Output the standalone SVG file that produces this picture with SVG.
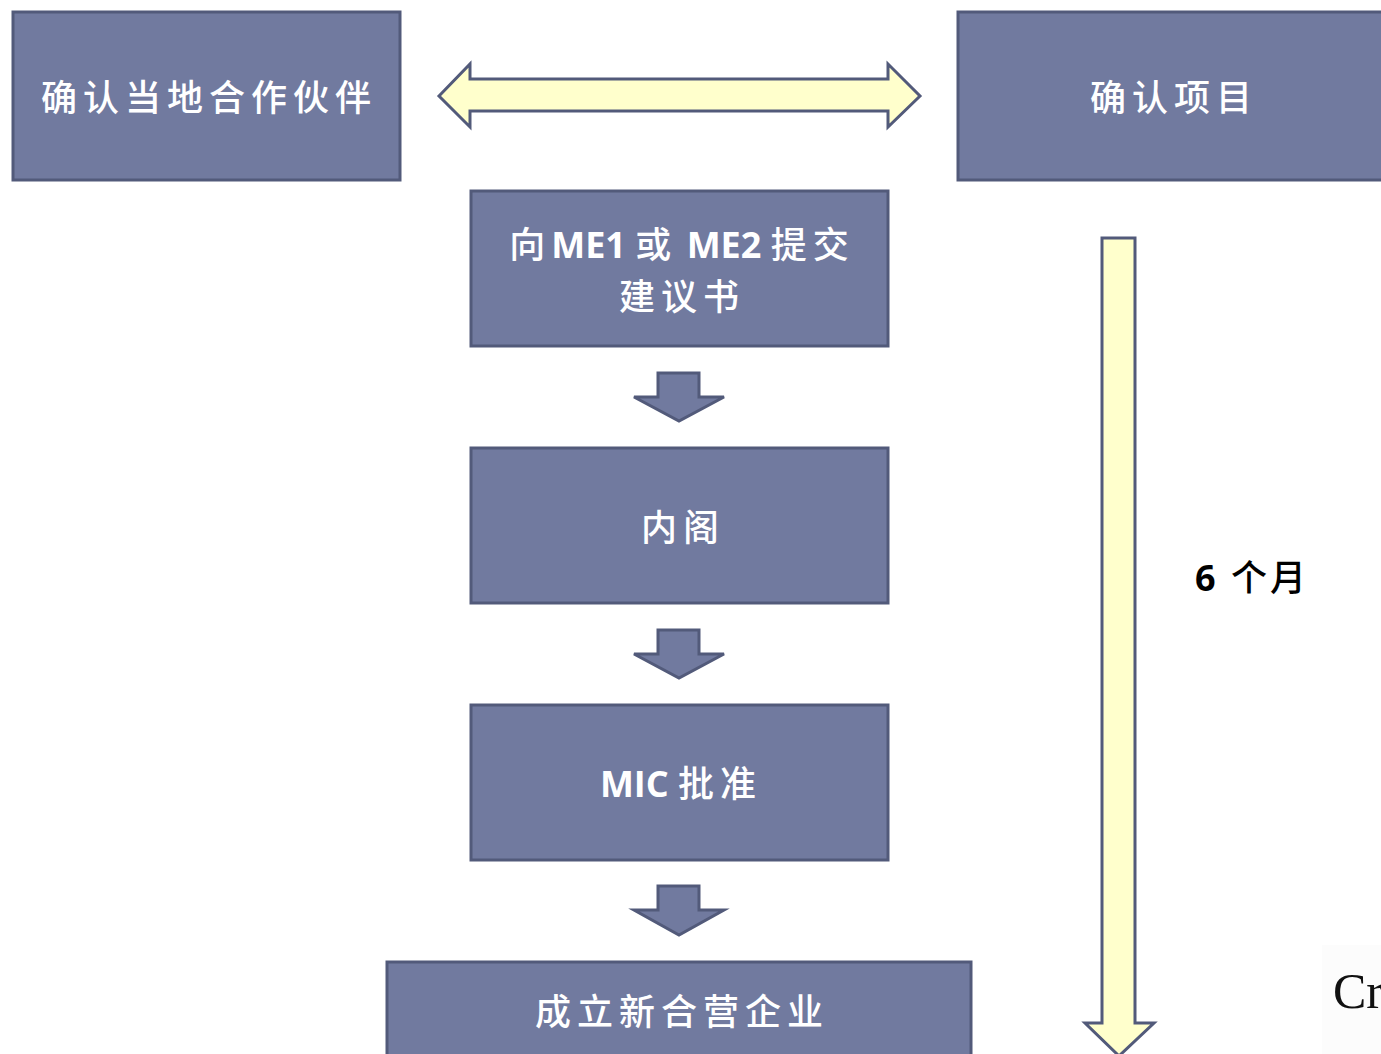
<svg xmlns="http://www.w3.org/2000/svg" width="1381" height="1054" viewBox="0 0 1381 1054">
<style>
.box{fill:#717A9F;stroke:#525A7A;stroke-width:3}
.yel{fill:#FFFFCC;stroke:#525A7A;stroke-width:3;stroke-linejoin:miter}
.dn{fill:#717A9F;stroke:#525A7A;stroke-width:3}
.t{fill:#FFFFFF;font-family:"Noto Sans CJK SC","Noto Sans",sans-serif;font-size:36px;font-weight:500;text-anchor:middle;letter-spacing:6px}
.lat{font-family:"Open Sans","Liberation Sans","Noto Sans CJK SC",sans-serif;font-weight:700;letter-spacing:0}
.k{fill:#000;font-family:"Noto Sans CJK SC","Noto Sans",sans-serif;font-size:36px;font-weight:500;letter-spacing:3px}
</style>
<rect width="1381" height="1054" fill="#FFFFFF"/>
<rect x="1322" y="945" width="59" height="109" fill="#FCFCFC"/>
<g id="connectors">
<path class="yel" d="M439,96 L470,64 L470,79 L888,79 L888,64 L920,96 L888,127 L888,111 L470,111 L470,127 Z"/>
<path class="dn" d="M658,373 L699,373 L699,397 L724,397 L679,421 L634,397 L658,397 Z"/>
<path class="dn" d="M658,630 L699,630 L699,654 L724,654 L679,678 L634,654 L658,654 Z"/>
<path class="dn" d="M658,886 L699,886 L699,910 L724,910 L679,935 L634,910 L658,910 Z"/>
<path class="yel" d="M1102,238 L1135,238 L1135,1023 L1154,1023 L1119,1056 L1085,1023 L1102,1023 Z"/>
</g>
<g id="n1"><rect class="box" x="13" y="12" width="387" height="168"/><text class="t" x="209" y="111">确认当地合作伙伴</text></g>
<g id="n2"><rect class="box" x="958" y="12" width="430" height="168"/><text class="t" x="1174" y="111">确认项目</text></g>
<g id="n3"><rect class="box" x="471" y="191" width="417" height="155"/>
<text class="t" x="682" y="258">向<tspan class="lat">ME1 </tspan>或<tspan class="lat"> ME2 </tspan>提交</text>
<text class="t" x="682" y="310">建议书</text></g>
<g id="n4"><rect class="box" x="471" y="448" width="417" height="155"/><text class="t" x="683" y="541">内阁</text></g>
<g id="n5"><rect class="box" x="471" y="705" width="417" height="155"/><text class="t" x="681" y="797"><tspan class="lat">MIC </tspan>批准</text></g>
<g id="n6"><rect class="box" x="387" y="962" width="584" height="100"/><text class="t" x="682" y="1025">成立新合营企业</text></g>
<text class="k" x="1195" y="591"><tspan style="font-family:'Open Sans','Liberation Sans',sans-serif;font-weight:700">6 </tspan>个月</text>
<text x="1333" y="1008" style="font-family:'Liberation Serif',serif;font-size:50px;fill:#111">Cr</text>
</svg>
